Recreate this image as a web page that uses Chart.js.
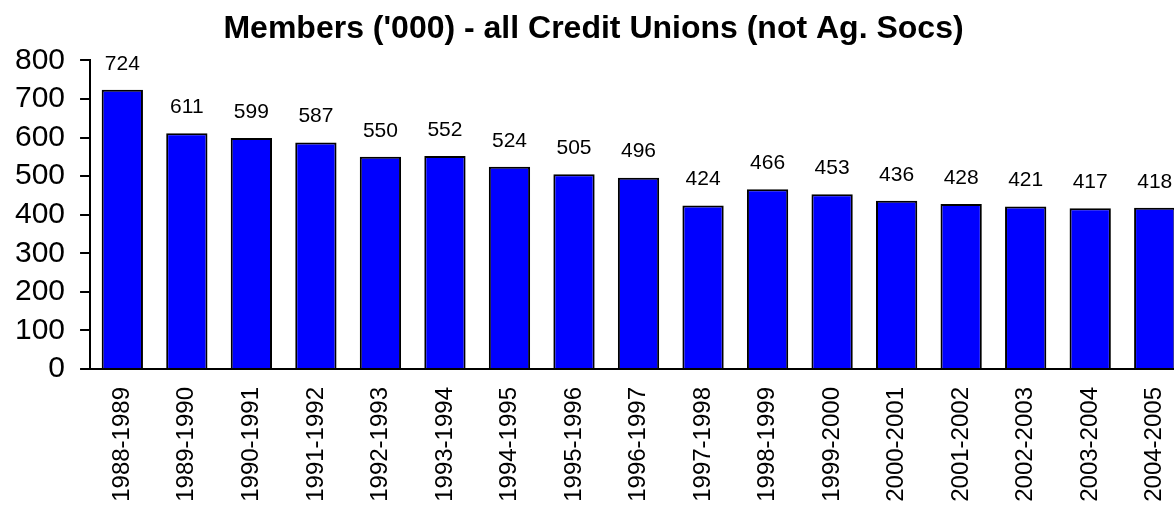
<!DOCTYPE html>
<html lang="en">
<head>
    <meta charset="UTF-8">
    <title>Members ('000) - all Credit Unions</title>
    <script src="https://cdn.jsdelivr.net/npm/chart.js"></script>
    <style>
        html, body {
            margin: 0;
            padding: 0;
            overflow: hidden;
            background: #fff;
        }
        .chart-container {
            position: absolute;
            left: 0;
            top: 0;
            width: 1187px;
            height: 507px;
        }
    </style>
</head>
<body>
    <div class="chart-container">
        <canvas id="membersChart" width="1187" height="507"></canvas>
    </div>

    <script>
        const years = ['1988-1989', '1989-1990', '1990-1991', '1991-1992', '1992-1993', '1993-1994',
            '1994-1995', '1995-1996', '1996-1997', '1997-1998', '1998-1999', '1999-2000',
            '2000-2001', '2001-2002', '2002-2003', '2003-2004', '2004-2005'];
        const members = [724, 611, 599, 587, 550, 552, 524, 505, 496, 424, 466, 453, 436, 428, 421, 417, 418];
        const yTicks = [0, 100, 200, 300, 400, 500, 600, 700, 800];

        const FONT = '"Liberation Sans", Arial, sans-serif';

        // draws the value above each bar (no datalabels plugin offline)
        const valueLabels = {
            id: 'valueLabels',
            afterDatasetsDraw(chart) {
                const c = chart.ctx;
                const meta = chart.getDatasetMeta(0);
                c.save();
                c.font = '21px ' + FONT;
                c.fillStyle = '#000';
                c.textAlign = 'center';
                c.textBaseline = 'middle';
                meta.data.forEach((bar, i) => {
                    c.fillText(members[i], bar.x, bar.y - 26);
                });
                c.restore();
            }
        };

        const ctx = document.getElementById('membersChart').getContext('2d');
        new Chart(ctx, {
            type: 'bar',
            data: {
                labels: years,
                datasets: [{
                    label: 'Members',
                    data: members,
                    backgroundColor: '#0000FF',
                    borderColor: '#000',
                    borderWidth: 2,
                    categoryPercentage: 1,
                    barPercentage: 0.64
                }]
            },
            options: {
                responsive: false,
                animation: false,
                layout: { padding: { top: 4, left: 0, right: 0, bottom: 0 } },
                plugins: {
                    legend: { display: false },
                    tooltip: { enabled: false },
                    title: {
                        display: true,
                        text: "Members ('000) - all Credit Unions (not Ag. Socs)",
                        color: '#000',
                        font: { family: FONT, size: 32, weight: 'bold' },
                        padding: { top: 6, bottom: 12 }
                    }
                },
                scales: {
                    x: {
                        grid: { display: false },
                        border: { color: '#000', width: 2 },
                        afterFit: scale => {
                            // fixed label band, and let the last bar run to the edge
                            scale.height = 138;
                            scale.paddingLeft = 0;
                            scale.paddingRight = 0;
                        },
                        ticks: {
                            color: '#000',
                            maxRotation: 90,
                            minRotation: 90,
                            autoSkip: false,
                            padding: 10,
                            font: { family: FONT, size: 24 }
                        }
                    },
                    y: {
                        min: 0,
                        max: 800,
                        afterBuildTicks: axis => {
                            axis.ticks = yTicks.map(v => ({ value: v }));
                        },
                        grid: {
                            drawOnChartArea: false,
                            drawTicks: true,
                            tickLength: 10,
                            color: '#000',
                            lineWidth: 2
                        },
                        border: { color: '#000', width: 2 },
                        ticks: {
                            color: '#000',
                            autoSkip: false,
                            padding: 15,
                            font: { family: FONT, size: 30 }
                        }
                    }
                }
            },
            plugins: [valueLabels]
        });
    </script>
</body>
</html>
